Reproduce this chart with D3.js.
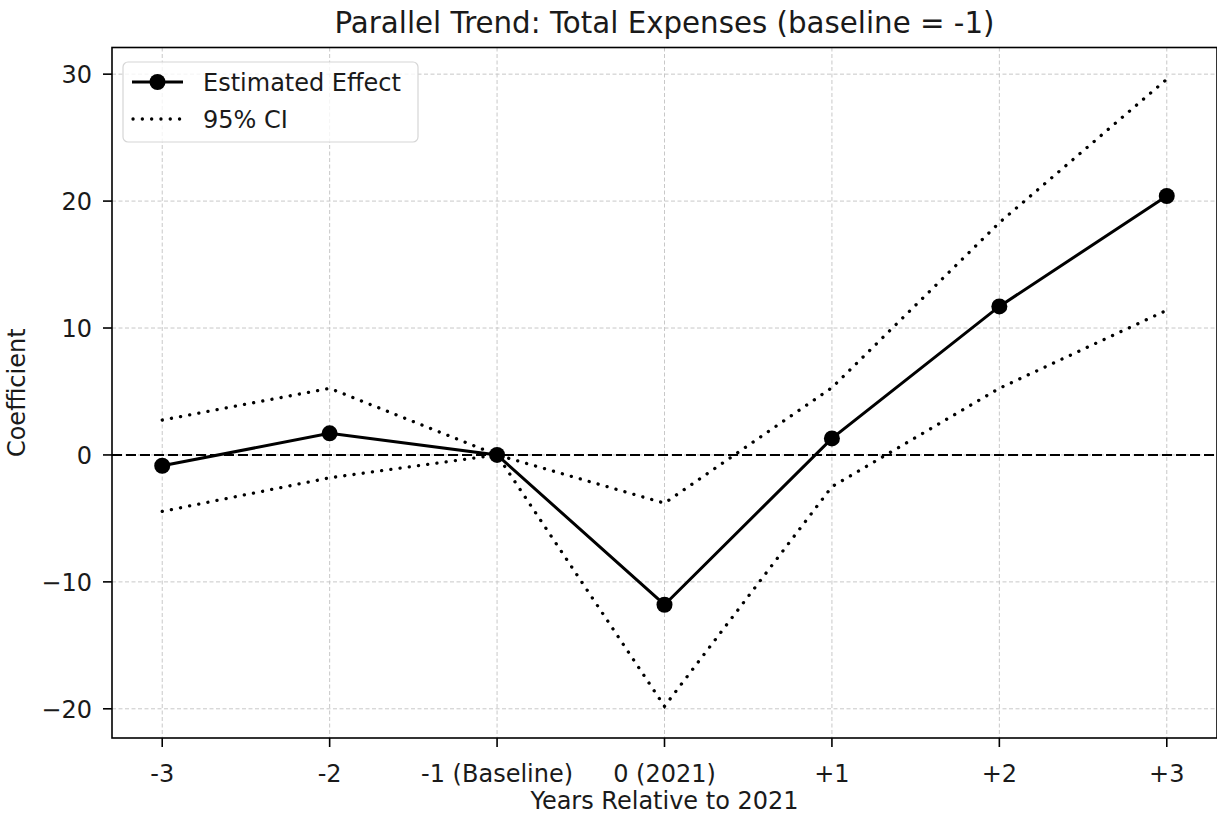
<!DOCTYPE html>
<html>
<head>
<meta charset="utf-8">
<script src="https://cdn.jsdelivr.net/npm/d3@7"></script>
<style>
  body { margin: 0; background: #fff; }
  text { font-family: "DejaVu Sans", sans-serif; fill: #1a1a1a; }
</style>
</head>
<body>
<div id="chart"></div>
<script>
// data
var periods = ["-3", "-2", "-1 (Baseline)", "0 (2021)", "+1", "+2", "+3"];
var estimate = [-0.85, 1.7, 0, -11.8, 1.3, 11.7, 20.4];
var ciUpper = [2.75, 5.25, 0, -3.8, 5.3, 18.3, 29.6];
var ciLower = [-4.45, -1.8, 0, -19.8, -2.5, 5.25, 11.4];
var yTicks = [-20, -10, 0, 10, 20, 30];

var W = 1217, H = 814;
// plot area (window.top is reserved, so use pLeft etc)
var pLeft = 112, pRight = 1217, pTop = 47.5, pBottom = 738;

var svg = d3.select("#chart").append("svg")
  .attr("width", W).attr("height", H);

var x = d3.scaleLinear().domain([-0.3, periods.length - 1 + 0.3]).range([pLeft, pRight]);
var y = d3.scaleLinear().domain([-22.3, 32.1]).range([pBottom, pTop]);

// grid
var grid = svg.append("g");
grid.selectAll(".gx").data(periods).enter().append("line")
  .attr("x1", function(d, i) { return x(i); })
  .attr("x2", function(d, i) { return x(i); })
  .attr("y1", pTop).attr("y2", pBottom)
  .attr("stroke", "#c8c8c8").attr("stroke-width", 1)
  .attr("stroke-dasharray", "4,2.5");
grid.selectAll(".gy").data(yTicks).enter().append("line")
  .attr("x1", pLeft).attr("x2", pRight)
  .attr("y1", function(d) { return y(d); })
  .attr("y2", function(d) { return y(d); })
  .attr("stroke", "#c8c8c8").attr("stroke-width", 1)
  .attr("stroke-dasharray", "4,2.5");

// zero reference line
svg.append("line")
  .attr("x1", pLeft).attr("x2", pRight)
  .attr("y1", y(0)).attr("y2", y(0))
  .attr("stroke", "#000").attr("stroke-width", 2)
  .attr("stroke-dasharray", "10,4");

var line = d3.line()
  .x(function(d, i) { return x(i); })
  .y(function(d) { return y(d); });

// confidence interval
[ciUpper, ciLower].forEach(function(s) {
  svg.append("path").datum(s)
    .attr("d", line)
    .attr("fill", "none")
    .attr("stroke", "#000")
    .attr("stroke-width", 3.3)
    .attr("stroke-linecap", "round")
    .attr("stroke-dasharray", "0.1,9.2");
});

// estimated effect
svg.append("path").datum(estimate)
  .attr("d", line)
  .attr("fill", "none")
  .attr("stroke", "#000")
  .attr("stroke-width", 3);
svg.selectAll(".pt").data(estimate).enter().append("circle")
  .attr("cx", function(d, i) { return x(i); })
  .attr("cy", function(d) { return y(d); })
  .attr("r", 8)
  .attr("fill", "#000");

// spines
svg.append("rect")
  .attr("x", pLeft).attr("y", pTop)
  .attr("width", pRight - pLeft).attr("height", pBottom - pTop)
  .attr("fill", "none").attr("stroke", "#000").attr("stroke-width", 1.6);

// x ticks
var xt = svg.append("g");
periods.forEach(function(p, i) {
  xt.append("line")
    .attr("x1", x(i)).attr("x2", x(i))
    .attr("y1", pBottom).attr("y2", pBottom + 9)
    .attr("stroke", "#000").attr("stroke-width", 1.6);
  xt.append("text")
    .attr("x", x(i)).attr("y", 782)
    .attr("text-anchor", "middle")
    .attr("font-size", 24)
    .text(p);
});

// y ticks
var yt = svg.append("g");
yTicks.forEach(function(t) {
  yt.append("line")
    .attr("x1", pLeft - 9).attr("x2", pLeft)
    .attr("y1", y(t)).attr("y2", y(t))
    .attr("stroke", "#000").attr("stroke-width", 1.6);
  yt.append("text")
    .attr("x", 92).attr("y", y(t) + 8.7)
    .attr("text-anchor", "end")
    .attr("font-size", 24)
    .text(d3.format("d")(t).replace("-", "\u2212"));
});

// labels
svg.append("text")
  .attr("x", (pLeft + pRight) / 2).attr("y", 33)
  .attr("text-anchor", "middle")
  .attr("font-size", 29.3)
  .text("Parallel Trend: Total Expenses (baseline = -1)");
svg.append("text")
  .attr("x", (pLeft + pRight) / 2).attr("y", 809)
  .attr("text-anchor", "middle")
  .attr("font-size", 24)
  .text("Years Relative to 2021");
svg.append("text")
  .attr("transform", "translate(25," + (pTop + pBottom) / 2 + ") rotate(-90)")
  .attr("text-anchor", "middle")
  .attr("font-size", 24)
  .text("Coefficient");

// legend
var lg = svg.append("g");
lg.append("rect")
  .attr("x", 123).attr("y", 62).attr("width", 295).attr("height", 80)
  .attr("rx", 5)
  .attr("fill", "#fff").attr("fill-opacity", 0.8)
  .attr("stroke", "#d6d6d6").attr("stroke-width", 1.2);
lg.append("line")
  .attr("x1", 132).attr("x2", 183).attr("y1", 82).attr("y2", 82)
  .attr("stroke", "#000").attr("stroke-width", 3);
lg.append("circle").attr("cx", 157.5).attr("cy", 82).attr("r", 8).attr("fill", "#000");
lg.append("line")
  .attr("x1", 133).attr("x2", 183).attr("y1", 119).attr("y2", 119)
  .attr("stroke", "#000").attr("stroke-width", 3.3)
  .attr("stroke-linecap", "round")
  .attr("stroke-dasharray", "0.1,9.2");
lg.append("text").attr("x", 203).attr("y", 91).attr("font-size", 24).text("Estimated Effect");
lg.append("text").attr("x", 203).attr("y", 128).attr("font-size", 24).text("95% CI");
</script>
</body>
</html>
